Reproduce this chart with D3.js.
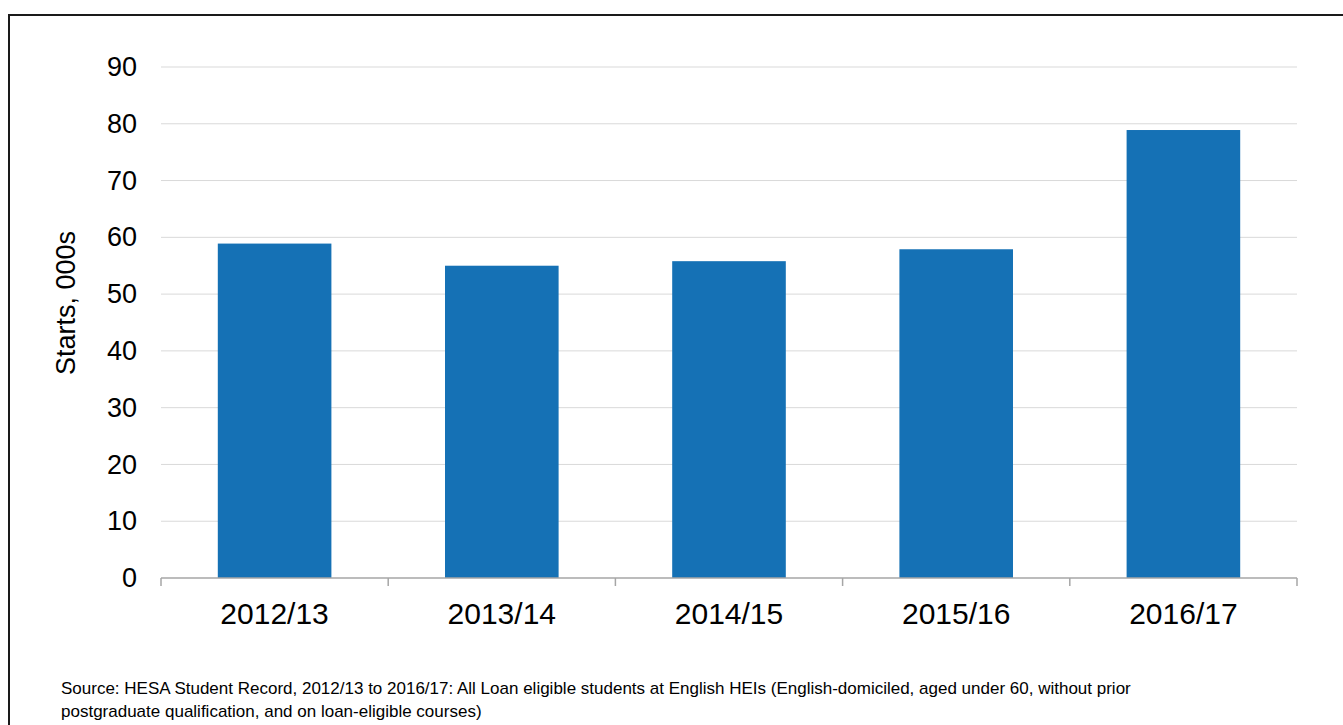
<!DOCTYPE html>
<html>
<head>
<meta charset="utf-8">
<script src="https://cdn.jsdelivr.net/npm/d3@7"></script>
<style>
  body { margin: 0; background: #fff; }
  svg { display: block; font-family: "Liberation Sans", Arial, sans-serif; }
</style>
</head>
<body>
<div class="bar-chart"></div>
<script>
// Chart data
var years = ["2012/13", "2013/14", "2014/15", "2015/16", "2016/17"];
var starts = [58.9, 55.0, 55.8, 57.9, 78.9];
var yTicks = [0, 10, 20, 30, 40, 50, 60, 70, 80, 90];
var sourceLines = [
  "Source: HESA Student Record, 2012/13 to 2016/17: All Loan eligible students at English HEIs (English-domiciled, aged under 60, without prior",
  "postgraduate qualification, and on loan-eligible courses)"
];

var width = 1343;
var height = 725;
var plot = { left: 161, right: 1297, top: 67, bottom: 578 };

var svg = d3.select(".bar-chart")
  .append("svg")
  .attr("width", width)
  .attr("height", height);

// outer frame (runs off the right and bottom edge)
svg.append("rect")
  .attr("x", 9)
  .attr("y", 15)
  .attr("width", 1400)
  .attr("height", 800)
  .style("fill", "none")
  .style("stroke", "#1a1a1a")
  .style("stroke-width", 2);

var xScale = d3.scaleBand()
  .domain(years)
  .range([plot.left, plot.right])
  .paddingInner(0.5)
  .paddingOuter(0.25);

var yScale = d3.scaleLinear()
  .domain([0, 90])
  .range([plot.bottom, plot.top]);

// Gridlines
svg.append("g")
  .selectAll("line")
  .data(yTicks.slice(1)).enter()
  .append("line")
  .attr("x1", plot.left)
  .attr("x2", plot.right)
  .attr("y1", function (d) { return yScale(d) })
  .attr("y2", function (d) { return yScale(d) })
  .style("stroke", "#d9d9d9")
  .style("stroke-width", 1);

// Bars
svg.append("g")
  .selectAll("rect")
  .data(starts).enter()
  .append("rect")
  .attr("x", function (d, i) { return xScale(years[i]) })
  .attr("y", function (d) { return yScale(d) })
  .attr("width", xScale.bandwidth())
  .attr("height", function (d) { return yScale(0) - yScale(d) })
  .style("fill", "#1571b5");

// Y axis (labels only)
var yAxis = d3.axisLeft(yScale).tickValues(yTicks).tickSize(0).tickPadding(24);
var yg = svg.append("g")
  .attr("transform", `translate(${plot.left}, 0)`)
  .call(yAxis);
yg.select(".domain").remove();
yg.selectAll("text")
  .style("font-size", "27px")
  .style("fill", "#000");

// X axis with ticks on category boundaries
var xg = svg.append("g")
  .attr("transform", `translate(0, ${plot.bottom})`);
xg.append("line")
  .attr("x1", plot.left)
  .attr("x2", plot.right)
  .style("stroke", "#a6a6a6")
  .style("stroke-width", 1.5);
var step = (plot.right - plot.left) / years.length;
xg.selectAll(".tick-mark")
  .data(d3.range(years.length + 1)).enter()
  .append("line")
  .attr("class", "tick-mark")
  .attr("x1", function (d) { return plot.left + d * step })
  .attr("x2", function (d) { return plot.left + d * step })
  .attr("y1", 0)
  .attr("y2", 8)
  .style("stroke", "#a6a6a6")
  .style("stroke-width", 1.5);
xg.selectAll(".label")
  .data(years).enter()
  .append("text")
  .attr("class", "label")
  .attr("x", function (d) { return xScale(d) + xScale.bandwidth() / 2 })
  .attr("y", 46)
  .attr("text-anchor", "middle")
  .style("font-size", "30px")
  .style("fill", "#000")
  .text(function (d) { return d });

// Y axis title
svg.append("text")
  .attr("transform", "translate(75, 303) rotate(-90)")
  .attr("text-anchor", "middle")
  .style("font-size", "27px")
  .style("fill", "#000")
  .text("Starts, 000s");

// Source note
svg.append("g")
  .selectAll("text")
  .data(sourceLines).enter()
  .append("text")
  .attr("x", 61)
  .attr("y", function (d, i) { return 694 + i * 23 })
  .style("font-size", "17px")
  .style("fill", "#000")
  .text(function (d) { return d });
</script>
</body>
</html>
